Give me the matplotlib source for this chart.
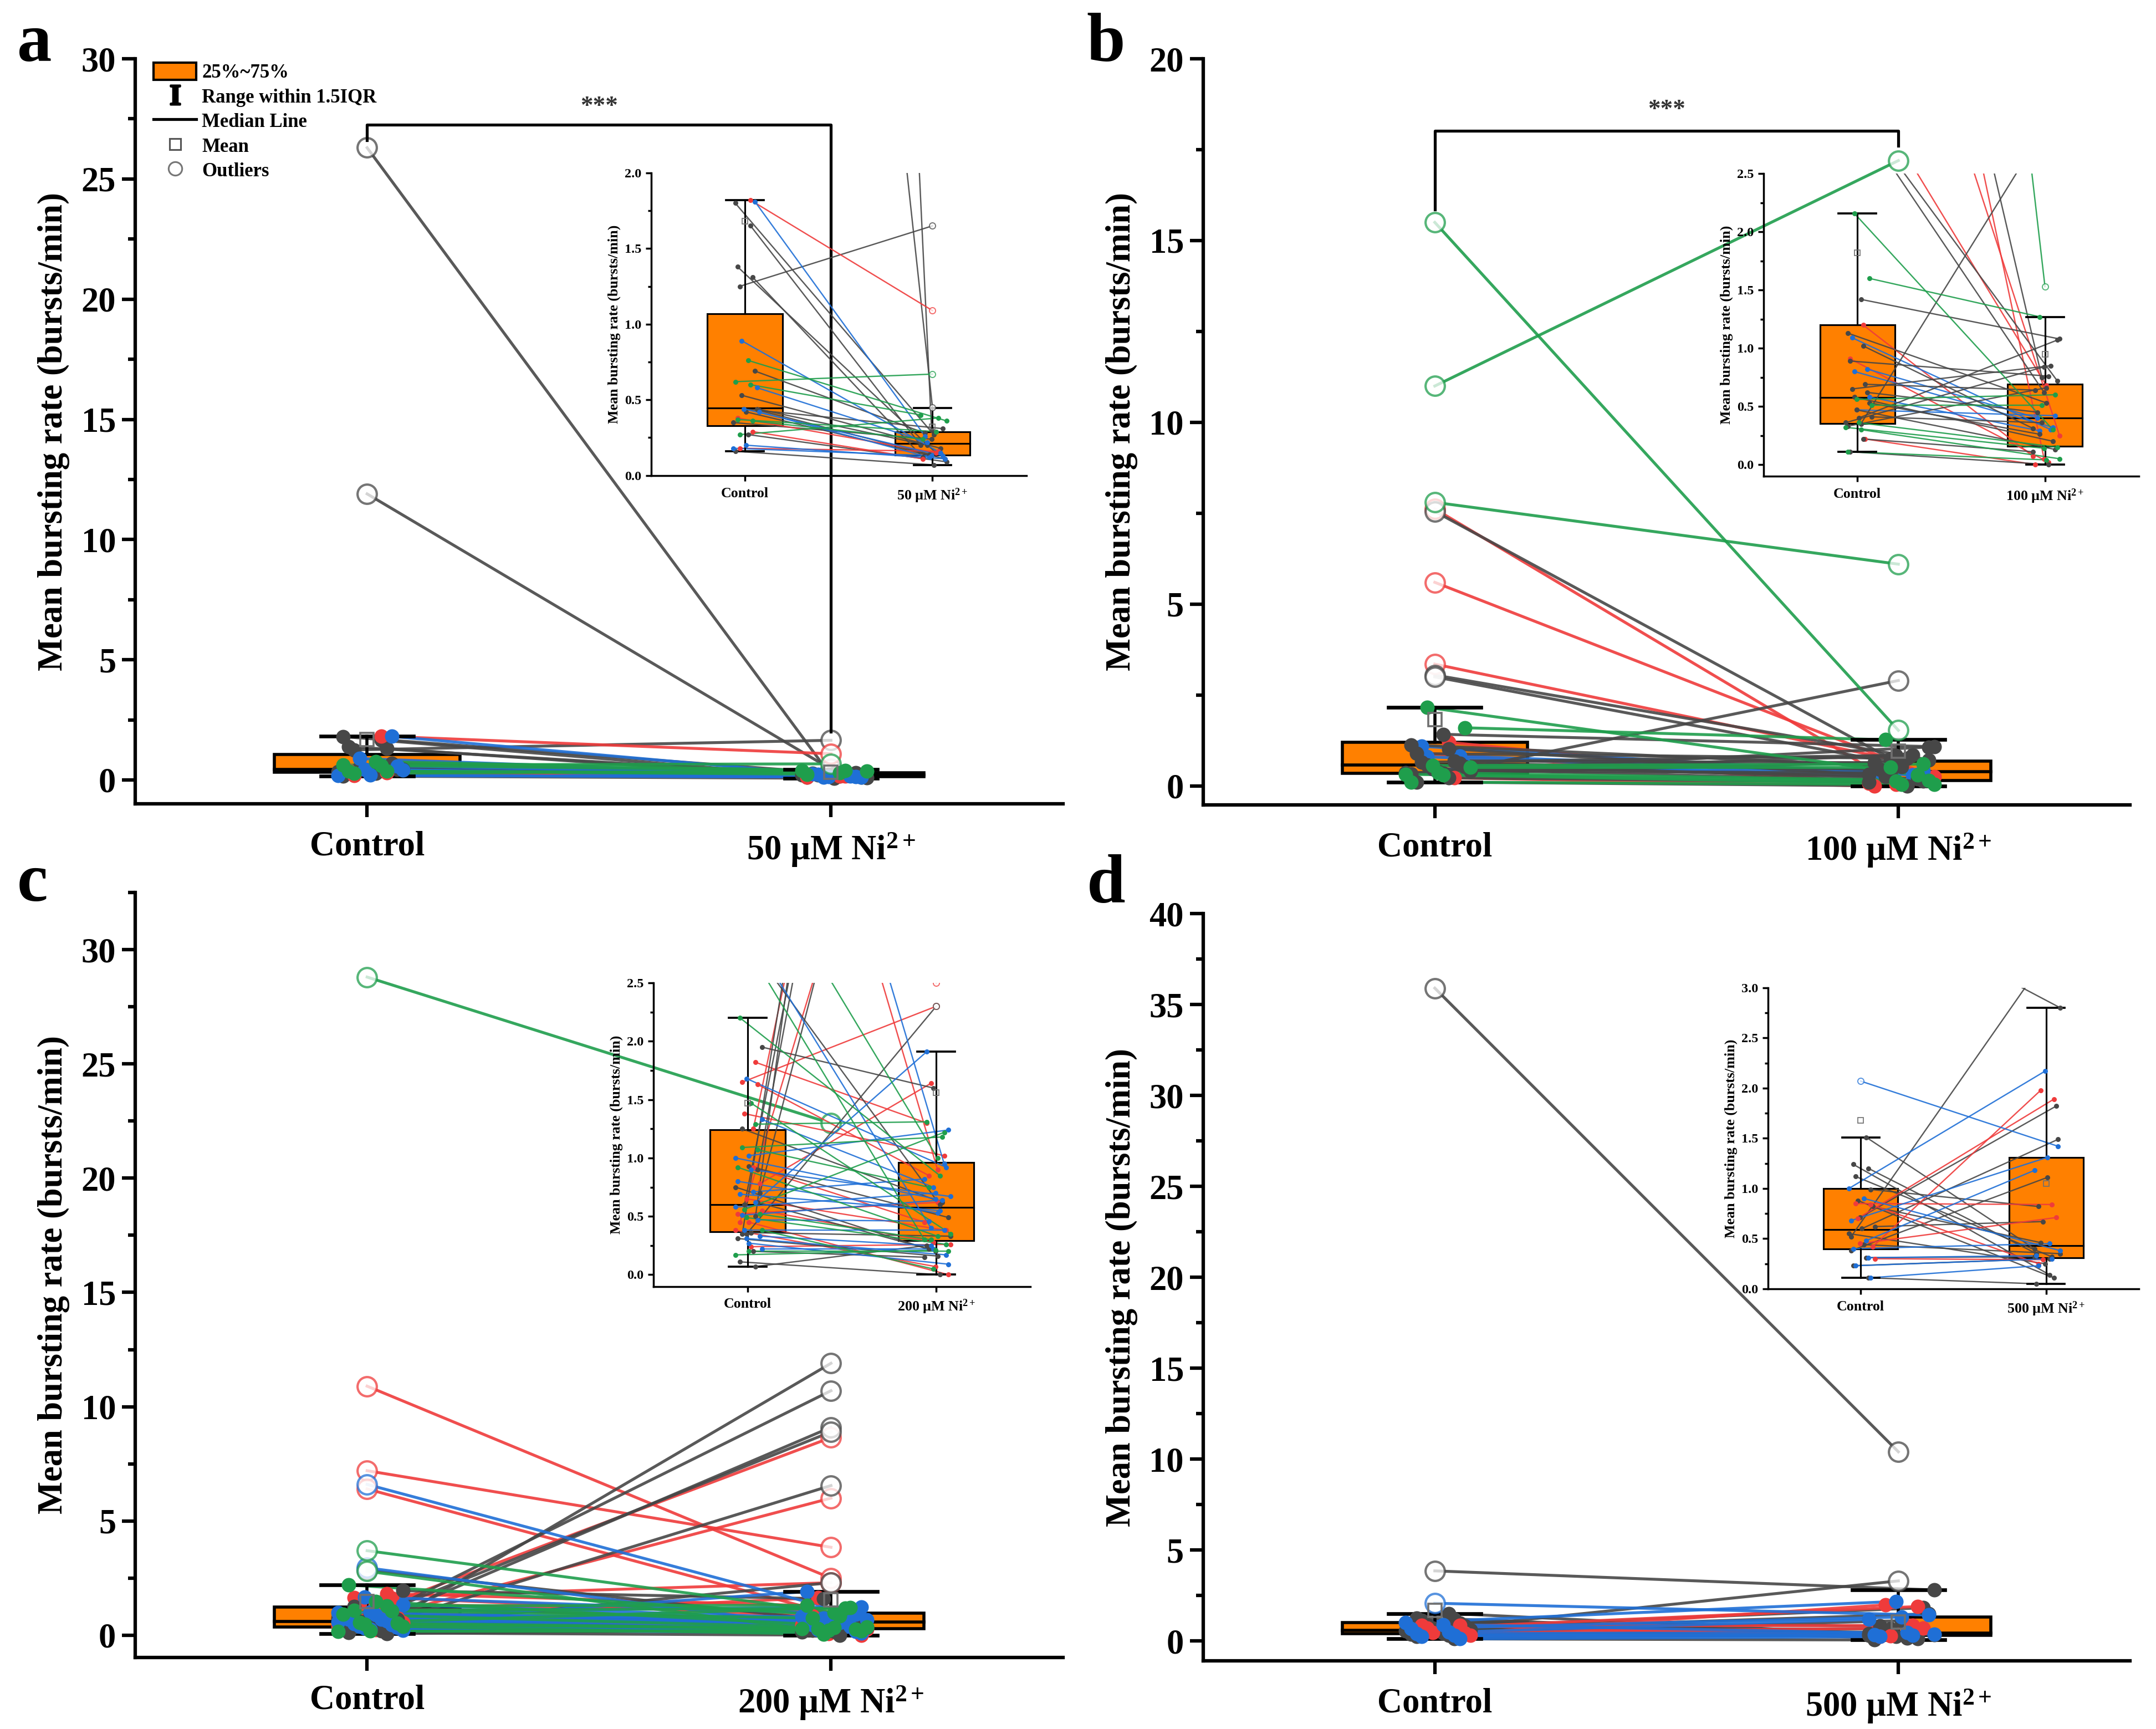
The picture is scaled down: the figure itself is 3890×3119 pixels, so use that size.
import numpy as np
import matplotlib
matplotlib.use("Agg")
import matplotlib.pyplot as plt
from matplotlib.patches import Rectangle, Patch
from matplotlib.lines import Line2D
from matplotlib.ticker import MultipleLocator, FormatStrFormatter

plt.rcParams["font.family"] = ["Liberation Serif", "DejaVu Serif"]
plt.rcParams["font.weight"] = "bold"
plt.rcParams["axes.labelweight"] = "bold"
plt.rcParams["mathtext.fontset"] = "custom"
plt.rcParams["mathtext.rm"] = "Liberation Serif:bold"
plt.rcParams["mathtext.bf"] = "Liberation Serif:bold"
plt.rcParams["mathtext.it"] = "Liberation Serif:bold:italic"

COL = {"k": "#474747", "r": "#ef3b3b", "b": "#1f6fd6", "g": "#1f9e4c"}
ORANGE = "#ff8000"
YLABEL = "Mean bursting rate (bursts/min)"

# ---- panel a : 50 uM ----
a_ctrl = [26.3, 11.9, 1.80, 1.65, 1.38, 1.31, 1.25, 0.69, 0.53, 0.44, 0.44, 0.43, 0.42, 0.35, 0.27, 0.16,
          1.82, 0.38, 0.29, 0.18,
          1.81, 0.89, 0.58, 0.44, 0.42, 0.20, 0.18,
          0.76, 0.62, 0.60, 0.37, 0.36, 0.27]
a_ni = [0.30, 0.45, 0.27, 0.20, 0.15, 0.12, 1.65, 0.28, 0.18, 0.20, 0.31, 0.14, 0.11, 0.24, 0.09, 0.07,
        1.09, 0.15, 0.11, 0.16,
        0.26, 0.15, 0.22, 0.13, 0.12, 0.11, 0.13,
        0.36, 0.67, 0.40, 0.29, 0.24, 0.38]
a_col = list("k" * 16 + "r" * 4 + "b" * 7 + "g" * 6)
a_box_ctrl = [0.16, 0.33, 0.445, 1.07, 1.82, 1.68]   # whislo, q1, median, q3, whishi, mean
a_box_ni = [0.07, 0.135, 0.21, 0.29, 0.445, 0.32]

# ---- panel b : 100 uM ----
b_ctrl = [7.62, 5.6, 3.35, 1.2, 0.91, 0.22,
          1.09, 0.82, 0.80, 0.58, 0.47,
          7.55, 3.05, 3.0, 1.42, 1.13, 1.02, 0.89, 0.69, 0.65, 0.62, 0.58, 0.53, 0.47, 0.41, 0.40, 0.36, 0.35, 0.33, 0.22, 0.11,
          15.5, 11.0, 7.8, 2.16, 1.6, 0.56, 0.51, 0.36, 0.32, 0.30, 0.11]
b_ni = [0.05, 0.25, 0.68, 0.07, 0.02, 0.0,
        0.30, 0.40, 0.32, 0.29, 0.42,
        0.75, 0.72, 0.62, 1.08, 0.53, 0.31, 0.76, 0.64, 0.85, 0.45, 0.20, 0.26, 0.13, 0.36, 1.07, 0.84, 2.9, 0.66, 0.11, 0.0,
        1.53, 17.2, 6.1, 0.30, 1.27, 0.60, 0.51, 0.15, 0.14, 0.05, 0.04]
b_col = list("r" * 6 + "b" * 5 + "k" * 20 + "g" * 11)
b_box_ctrl = [0.11, 0.355, 0.575, 1.2, 2.16, 1.82]
b_box_ni = [0.0, 0.155, 0.40, 0.69, 1.27, 0.95]

# ---- panel c : 200 uM ----
c_ctrl = [10.9, 7.2, 6.4, 1.25, 0.45, 1.82, 1.65, 1.63, 1.38, 0.78, 0.65, 0.55, 0.45, 0.38, 0.24, 0.52, 0.92,
          2.85, 0.5, 0.35, 0.9, 0.6, 0.7, 0.35, 1.95, 0.93, 0.75, 0.36, 0.31, 0.20, 0.11, 0.07, 1.25, 0.62,
          6.6, 2.95, 1.68, 1.33, 1.02, 1.0, 0.90, 0.80, 0.71, 0.69, 0.62, 0.51, 0.47, 0.38, 0.33, 0.31, 0.22, 0.27, 0.58,
          28.8, 3.7, 2.8, 2.2, 1.29, 1.09, 1.07, 0.56, 0.52, 0.49, 0.38, 0.20, 0.17, 1.47, 0.92]
c_ni = [2.5, 3.85, 0.9, 8.65, 6.0, 1.3, 2.3, 0.85, 1.02, 1.64, 0.38, 0.28, 0.0, 0.07, 0.26, 0.62, 0.45,
        0.6, 11.9, 10.7, 9.1, 8.9, 6.55, 2.3, 1.6, 0.49, 0.20, 0.33, 0.16, 0.15, 0.0, 0.25, 0.62, 0.22,
        0.95, 0.4, 0.92, 0.75, 1.24, 0.65, 0.67, 0.53, 0.82, 0.55, 1.91, 0.64, 0.46, 0.38, 0.25, 0.17, 0.22, 0.09, 0.70,
        22.4, 1.0, 0.3, 0.85, 1.31, 1.18, 0.75, 1.22, 0.30, 0.26, 0.05, 0.20, 0.21, 0.35, 0.33]
c_col = list("r" * 17 + "k" * 17 + "b" * 19 + "g" * 15)
c_box_ctrl = [0.07, 0.37, 0.60, 1.24, 2.2, 1.47]
c_box_ni = [0.0, 0.29, 0.575, 0.96, 1.91, 1.56]

# ---- panel d : 500 uM ----
d_ctrl = [35.9, 3.85, 0.52, 1.51, 1.24, 1.20, 1.12, 0.99, 0.88, 0.82, 0.71, 0.62, 0.60, 0.55, 0.44, 0.38, 0.31, 0.23, 0.11,
          0.85, 0.84, 0.70, 0.42, 0.45, 0.30,
          2.07, 1.0, 0.90, 0.68, 0.48, 0.40, 0.31, 0.23, 0.11]
d_ni = [10.4, 2.8, 3.3, 0.40, 0.14, 0.35, 0.32, 0.82, 0.11, 0.46, 1.82, 0.67, 1.49, 0.25, 0.35, 1.11, 0.32, 0.30, 0.05,
        0.84, 0.25, 1.89, 1.98, 0.71, 0.29,
        1.42, 2.17, 0.38, 1.31, 1.18, 0.45, 0.33, 0.30, 0.23]
d_col = list("k" * 19 + "r" * 6 + "b" * 9)
d_box_ctrl = [0.11, 0.40, 0.59, 1.0, 1.51, 1.68]
d_box_ni = [0.05, 0.31, 0.43, 1.31, 2.8, 1.05]


def jitter(n, shift):
    k = (np.arange(n) * 7 + shift) % 13
    return (k / 12.0 - 0.45) * 0.14


def draw_box(ax, x, st, left, right, lw, cap):
    lo, q1, med, q3, hi, mean = st
    ax.add_patch(Rectangle((left, q1), right - left, q3 - q1, facecolor=ORANGE,
                           edgecolor="black", lw=lw, zorder=1))
    ax.plot([left, right], [med, med], color="black", lw=lw, zorder=1.5)
    ax.plot([x, x], [q3, hi], color="black", lw=lw, zorder=2.5)
    ax.plot([x, x], [lo, q1], color="black", lw=lw, zorder=2.5)
    ax.plot([x - cap, x + cap], [hi, hi], color="black", lw=lw * 1.2, zorder=2.5)
    ax.plot([x - cap, x + cap], [lo, lo], color="black", lw=lw * 1.2, zorder=2.5)


def draw_panel(ax, ctrl, ni, cols, st_c, st_n, main):
    ctrl = np.array(ctrl)
    ni = np.array(ni)
    if main:
        lw, ms, oms, bl, mms = 1.5, 7.5, 10, 1.6, 7
        draw_box(ax, 1, st_c, 0.8, 1.2, bl, 0.1)
        draw_box(ax, 2, st_n, 2.0, 2.2, bl, 0.1)
    else:
        lw, ms, oms, bl, mms = 0.7, 2.6, 3.2, 0.9, 3
        draw_box(ax, 1, st_c, 0.8, 1.2, bl, 0.1)
        draw_box(ax, 2, st_n, 1.8, 2.2, bl, 0.1)
    jc = jitter(len(ctrl), 0)
    jn = jitter(len(ni), 5)
    out_c = (ctrl < st_c[0]) | (ctrl > st_c[4])
    out_n = (ni < st_n[0]) | (ni > st_n[4])
    xc = np.where(out_c, 1.0, 1.0 + jc)
    xn = np.where(out_n, 2.0, 2.0 + jn)
    for i in range(len(ctrl)):
        c = COL[cols[i]]
        ax.plot([xc[i], xn[i]], [ctrl[i], ni[i]], color=c, lw=lw, alpha=0.9, zorder=2)
    for xs, ys, outs in [(xc, ctrl, out_c), (xn, ni, out_n)]:
        for i in range(len(ys)):
            c = COL[cols[i]]
            if outs[i]:
                ax.plot(xs[i], ys[i], "o", ms=oms, mfc="white", mec=c, mew=lw * 0.8,
                        alpha=0.75, zorder=3)
            else:
                ax.plot(xs[i], ys[i], "o", ms=ms, color=c, mew=0, zorder=3)
    ax.plot(1, st_c[5], "s", ms=mms, mfc="none", mec="#707070", mew=lw * 0.7, zorder=4)
    ax.plot(2, st_n[5], "s", ms=mms, mfc="none", mec="#707070", mew=lw * 0.7, zorder=4)


def style(ax, labels, ylim, major, main):
    ax.set_xlim(0.5, 2.5)
    ax.set_ylim(*ylim)
    ax.set_xticks([1, 2])
    ax.set_xticklabels(labels)
    ax.yaxis.set_major_locator(MultipleLocator(major))
    ax.yaxis.set_minor_locator(MultipleLocator(major / 2))
    for s in ["top", "right"]:
        ax.spines[s].set_visible(False)
    if main:
        fs, slw, tl, pad = 18, 1.8, 7, 7
        ax.set_ylabel(YLABEL, fontsize=18, labelpad=6)
        ax.yaxis.set_major_formatter(FormatStrFormatter("%d"))
    else:
        fs, slw, tl, pad = 7, 1.0, 3, 3
        ax.set_ylabel(YLABEL, fontsize=7.5, labelpad=2)
        ax.yaxis.set_major_formatter(FormatStrFormatter("%.1f"))
        ax.set_facecolor("none")
    for s in ["left", "bottom"]:
        ax.spines[s].set_linewidth(slw)
    ax.tick_params(axis="both", which="major", direction="out", length=tl, width=slw,
                   labelsize=fs, pad=2 if not main else 3)
    ax.tick_params(axis="x", which="major", pad=pad)
    ax.tick_params(axis="y", which="minor", direction="out", length=tl * 0.55, width=slw)
    ax.tick_params(axis="x", which="minor", bottom=False)
    if not main:
        ax.tick_params(axis="x", labelsize=7.5)


fig = plt.figure(figsize=(15.56, 12.476), dpi=250)

panels = [
    ("a", a_ctrl, a_ni, a_col, a_box_ctrl, a_box_ni, "50", (-1, 30), (0, 2.0), 0.5,
     [0.0627, 0.535, 0.4303, 0.431], [0.302, 0.725, 0.174, 0.175], (0.008, 0.9647)),
    ("b", b_ctrl, b_ni, b_col, b_box_ctrl, b_box_ni, "100", (-0.52, 20), (-0.1, 2.5), 0.5,
     [0.558, 0.5345, 0.430, 0.4315], [0.818, 0.7246, 0.174, 0.1749], (0.504, 0.9647)),
    ("c", c_ctrl, c_ni, c_col, c_box_ctrl, c_box_ni, "200", (-0.97, 32.5), (-0.1, 2.5), 0.5,
     [0.0627, 0.0414, 0.4303, 0.4424], [0.303, 0.256, 0.175, 0.1755], (0.008, 0.479)),
    ("d", d_ctrl, d_ni, d_col, d_box_ctrl, d_box_ni, "500", (-1.1, 40), (0, 3.0), 0.5,
     [0.558, 0.0394, 0.430, 0.4322], [0.820, 0.2546, 0.172, 0.1741], (0.504, 0.478)),
]

axes = {}
for (tag, ctrl, ni, cols, stc, stn, conc, ylim, iylim, imaj, pos, ipos, lpos) in panels:
    labels = ["Control", conc + r" µM Ni$^{2+}$"]
    ax = fig.add_axes(pos)
    draw_panel(ax, ctrl, ni, cols, stc, stn, True)
    style(ax, labels, ylim, 5, True)
    ins = fig.add_axes(ipos)
    draw_panel(ins, ctrl, ni, cols, stc, stn, False)
    style(ins, labels, iylim, imaj, False)
    fig.text(lpos[0], lpos[1], tag, fontsize=36, fontweight="bold", va="baseline")
    axes[tag] = ax

# significance brackets
ax = axes["a"]
ax.plot([1, 1, 2, 2], [26.6, 27.25, 27.25, 2.0], color="black", lw=1.5, zorder=5)
ax.text(1.5, 27.55, "***", ha="center", va="bottom", fontsize=13, color="#333333")
ax = axes["b"]
ax.plot([1, 1, 2, 2], [15.85, 18.02, 18.02, 17.6], color="black", lw=1.5, zorder=5)
ax.text(1.5, 18.3, "***", ha="center", va="bottom", fontsize=13, color="#333333")

# legend (panel a)
handles = [
    Patch(facecolor=ORANGE, edgecolor="black", lw=1.2),
    Line2D([], [], ls="none", marker=r"$\mathbf{I}$", ms=10, color="black"),
    Line2D([], [], color="black", lw=1.5),
    Line2D([], [], ls="none", marker="s", ms=6, mfc="none", mec="#555555", mew=0.9),
    Line2D([], [], ls="none", marker="o", ms=7, mfc="none", mec="#777777", mew=0.9),
]
names = ["25%~75%", "Range within 1.5IQR", "Median Line", "Mean", "Outliers"]
axes["a"].legend(handles, names, loc="upper left", bbox_to_anchor=(0.02, 0.995), frameon=False,
                 prop={"size": 10, "weight": "bold"}, handlelength=2.2, handleheight=1.0,
                 handletextpad=0.3, labelspacing=0.26, borderpad=0, borderaxespad=0)

fig.savefig("out.png", dpi=250, facecolor="white")
